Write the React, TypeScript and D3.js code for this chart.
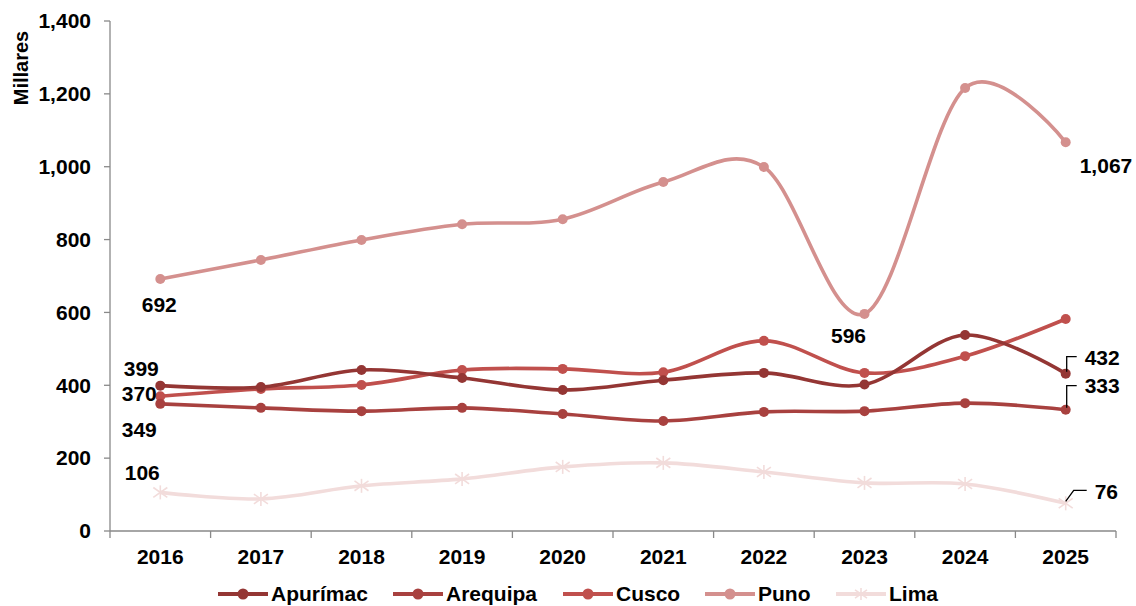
import React from "react";
import * as d3 from "d3";

const years = ["2016","2017","2018","2019","2020","2021","2022","2023","2024","2025"];
const apurimac = [399, 395, 442, 420, 387, 414, 434, 402, 538, 432];
const arequipa = [349, 338, 329, 338, 321, 302, 327, 329, 351, 333];
const cusco = [370, 390, 401, 442, 445, 436, 522, 434, 480, 582];
const puno = [692, 744, 799, 842, 856, 958, 999, 596, 1216, 1067];
const lima = [106, 88, 124, 143, 176, 187, 162, 132, 129, 76];
const yTicks = [0, 200, 400, 600, 800, 1000, 1200, 1400];

const seriesList = [
  { name: "Apurímac", values: apurimac, color: "#943634", marker: "circle" },
  { name: "Arequipa", values: arequipa, color: "#A8413F", marker: "circle" },
  { name: "Cusco", values: cusco, color: "#C0504D", marker: "circle" },
  { name: "Puno", values: puno, color: "#D4908E", marker: "circle" },
  { name: "Lima", values: lima, color: "#F2DCDB", marker: "star" },
];

const W = 1136, H = 606;
const left = 110, right = 1116, top = 21, bottom = 531;
const font = "'Liberation Sans', Arial, sans-serif";
const FS = 21;
const fmt = d3.format(",");

function Star({ cx, cy, color, s = 7 }: { cx: number; cy: number; color: string; s?: number }) {
  return (
    <g stroke={color} strokeWidth={1.6}>
      <line x1={cx - s} y1={cy - s * 0.7} x2={cx + s} y2={cy + s * 0.7} />
      <line x1={cx - s} y1={cy + s * 0.7} x2={cx + s} y2={cy - s * 0.7} />
      <line x1={cx} y1={cy - s} x2={cx} y2={cy + s} />
    </g>
  );
}

export default function App() {
  const x = d3.scaleBand<string>().domain(years).range([left, right]).padding(0);
  const y = d3.scaleLinear().domain([0, 1400]).range([bottom, top]);
  const cx = (yr: string) => (x(yr) as number) + x.bandwidth() / 2;
  const line = d3
    .line<number>()
    .x((_, i) => cx(years[i]))
    .y((v) => y(v))
    .curve(d3.curveCatmullRom.alpha(0));

  const last = years[years.length - 1];
  const first = years[0];

  const labels = [
    { v: puno, i: 0, tx: cx(first) - 1, ty: y(puno[0]) + 26, anchor: "middle" },
    { v: apurimac, i: 0, tx: cx(first) - 19, ty: y(apurimac[0]) - 17, anchor: "middle" },
    { v: cusco, i: 0, tx: cx(first) - 21, ty: y(cusco[0]) - 3, anchor: "middle" },
    { v: arequipa, i: 0, tx: cx(first) - 21, ty: y(arequipa[0]) + 26, anchor: "middle" },
    { v: lima, i: 0, tx: cx(first) - 18, ty: y(lima[0]) - 20, anchor: "middle" },
    { v: puno, i: 7, tx: cx("2023") - 16, ty: y(puno[7]) + 22, anchor: "middle" },
    { v: puno, i: 9, tx: cx(last) + 14, ty: y(puno[9]) + 23, anchor: "start" },
    { v: apurimac, i: 9, tx: cx(last) + 19, ty: y(apurimac[9]) - 16, anchor: "start" },
    { v: arequipa, i: 9, tx: cx(last) + 19, ty: y(arequipa[9]) - 24, anchor: "start" },
    { v: lima, i: 9, tx: cx(last) + 29, ty: y(lima[9]) - 12, anchor: "start" },
  ];

  const lx = cx(last);
  const leaders = [
    `M${lx + 1},${y(apurimac[9]) - 2} L${lx + 1},${y(apurimac[9]) - 17} L${lx + 11},${y(apurimac[9]) - 17}`,
    `M${lx + 1},${y(arequipa[9]) - 2} L${lx + 1},${y(arequipa[9]) - 24} L${lx + 11},${y(arequipa[9]) - 24}`,
    `M${lx},${y(lima[9]) - 2} L${lx + 8},${y(lima[9]) - 13} L${lx + 21},${y(lima[9]) - 13}`,
  ];

  const legendItems = [
    { s: seriesList[0], x0: 218 },
    { s: seriesList[1], x0: 393 },
    { s: seriesList[2], x0: 563 },
    { s: seriesList[3], x0: 705 },
    { s: seriesList[4], x0: 836 },
  ];
  const legY = 594;

  return (
    <svg width={W} height={H} style={{ position: "absolute", left: 0, top: 0, background: "#fff" }} fontFamily={font}>
      <g stroke="#898989" strokeWidth={1.3}>
        <line x1={left} y1={top} x2={left} y2={bottom} />
        <line x1={left} y1={bottom} x2={right} y2={bottom} />
        {yTicks.map((t) => (
          <line key={t} x1={left - 6} x2={left} y1={y(t)} y2={y(t)} />
        ))}
        {years.map((yr) => (
          <line key={yr} x1={x(yr) as number} x2={x(yr) as number} y1={bottom} y2={bottom + 7} />
        ))}
        <line x1={right} x2={right} y1={bottom} y2={bottom + 7} />
      </g>
      {yTicks.map((t) => (
        <text key={t} x={91} y={y(t)} dy="0.35em" textAnchor="end" fontSize={FS} fontWeight="bold" fill="#000">
          {fmt(t)}
        </text>
      ))}
      {years.map((yr) => (
        <text key={yr} x={cx(yr)} y={564} textAnchor="middle" fontSize={FS} fontWeight="bold" fill="#000">
          {yr}
        </text>
      ))}
      <text transform="translate(28,68) rotate(-90)" textAnchor="middle" fontSize={20} fontWeight="bold" fill="#000">
        Millares
      </text>

      {[...seriesList].reverse().map((s) => (
        <g key={s.name}>
          <path d={line(s.values) || ""} fill="none" stroke={s.color} strokeWidth={3.6} />
          {s.values.map((v, i) =>
            s.marker === "circle" ? (
              <circle key={i} cx={cx(years[i])} cy={y(v)} r={5} fill={s.color} />
            ) : (
              <Star key={i} cx={cx(years[i])} cy={y(v)} color={s.color} />
            )
          )}
        </g>
      ))}

      {leaders.map((d, i) => (
        <path key={i} d={d} fill="none" stroke="#000" strokeWidth={1.3} />
      ))}
      {labels.map((l, k) => (
        <text key={k} x={l.tx} y={l.ty} dy="0.35em" textAnchor={l.anchor as any} fontSize={FS} fontWeight="bold" fill="#000">
          {fmt(l.v[l.i])}
        </text>
      ))}

      {legendItems.map(({ s, x0 }) => (
        <g key={s.name}>
          <line x1={x0} x2={x0 + 50} y1={legY} y2={legY} stroke={s.color} strokeWidth={4} />
          {s.marker === "circle" ? (
            <circle cx={x0 + 25} cy={legY} r={5.5} fill={s.color} />
          ) : (
            <Star cx={x0 + 25} cy={legY} color={s.color} s={6} />
          )}
          <text x={x0 + 53} y={legY} dy="0.35em" fontSize={FS} fontWeight="bold" fill="#000">
            {s.name}
          </text>
        </g>
      ))}
    </svg>
  );
}
